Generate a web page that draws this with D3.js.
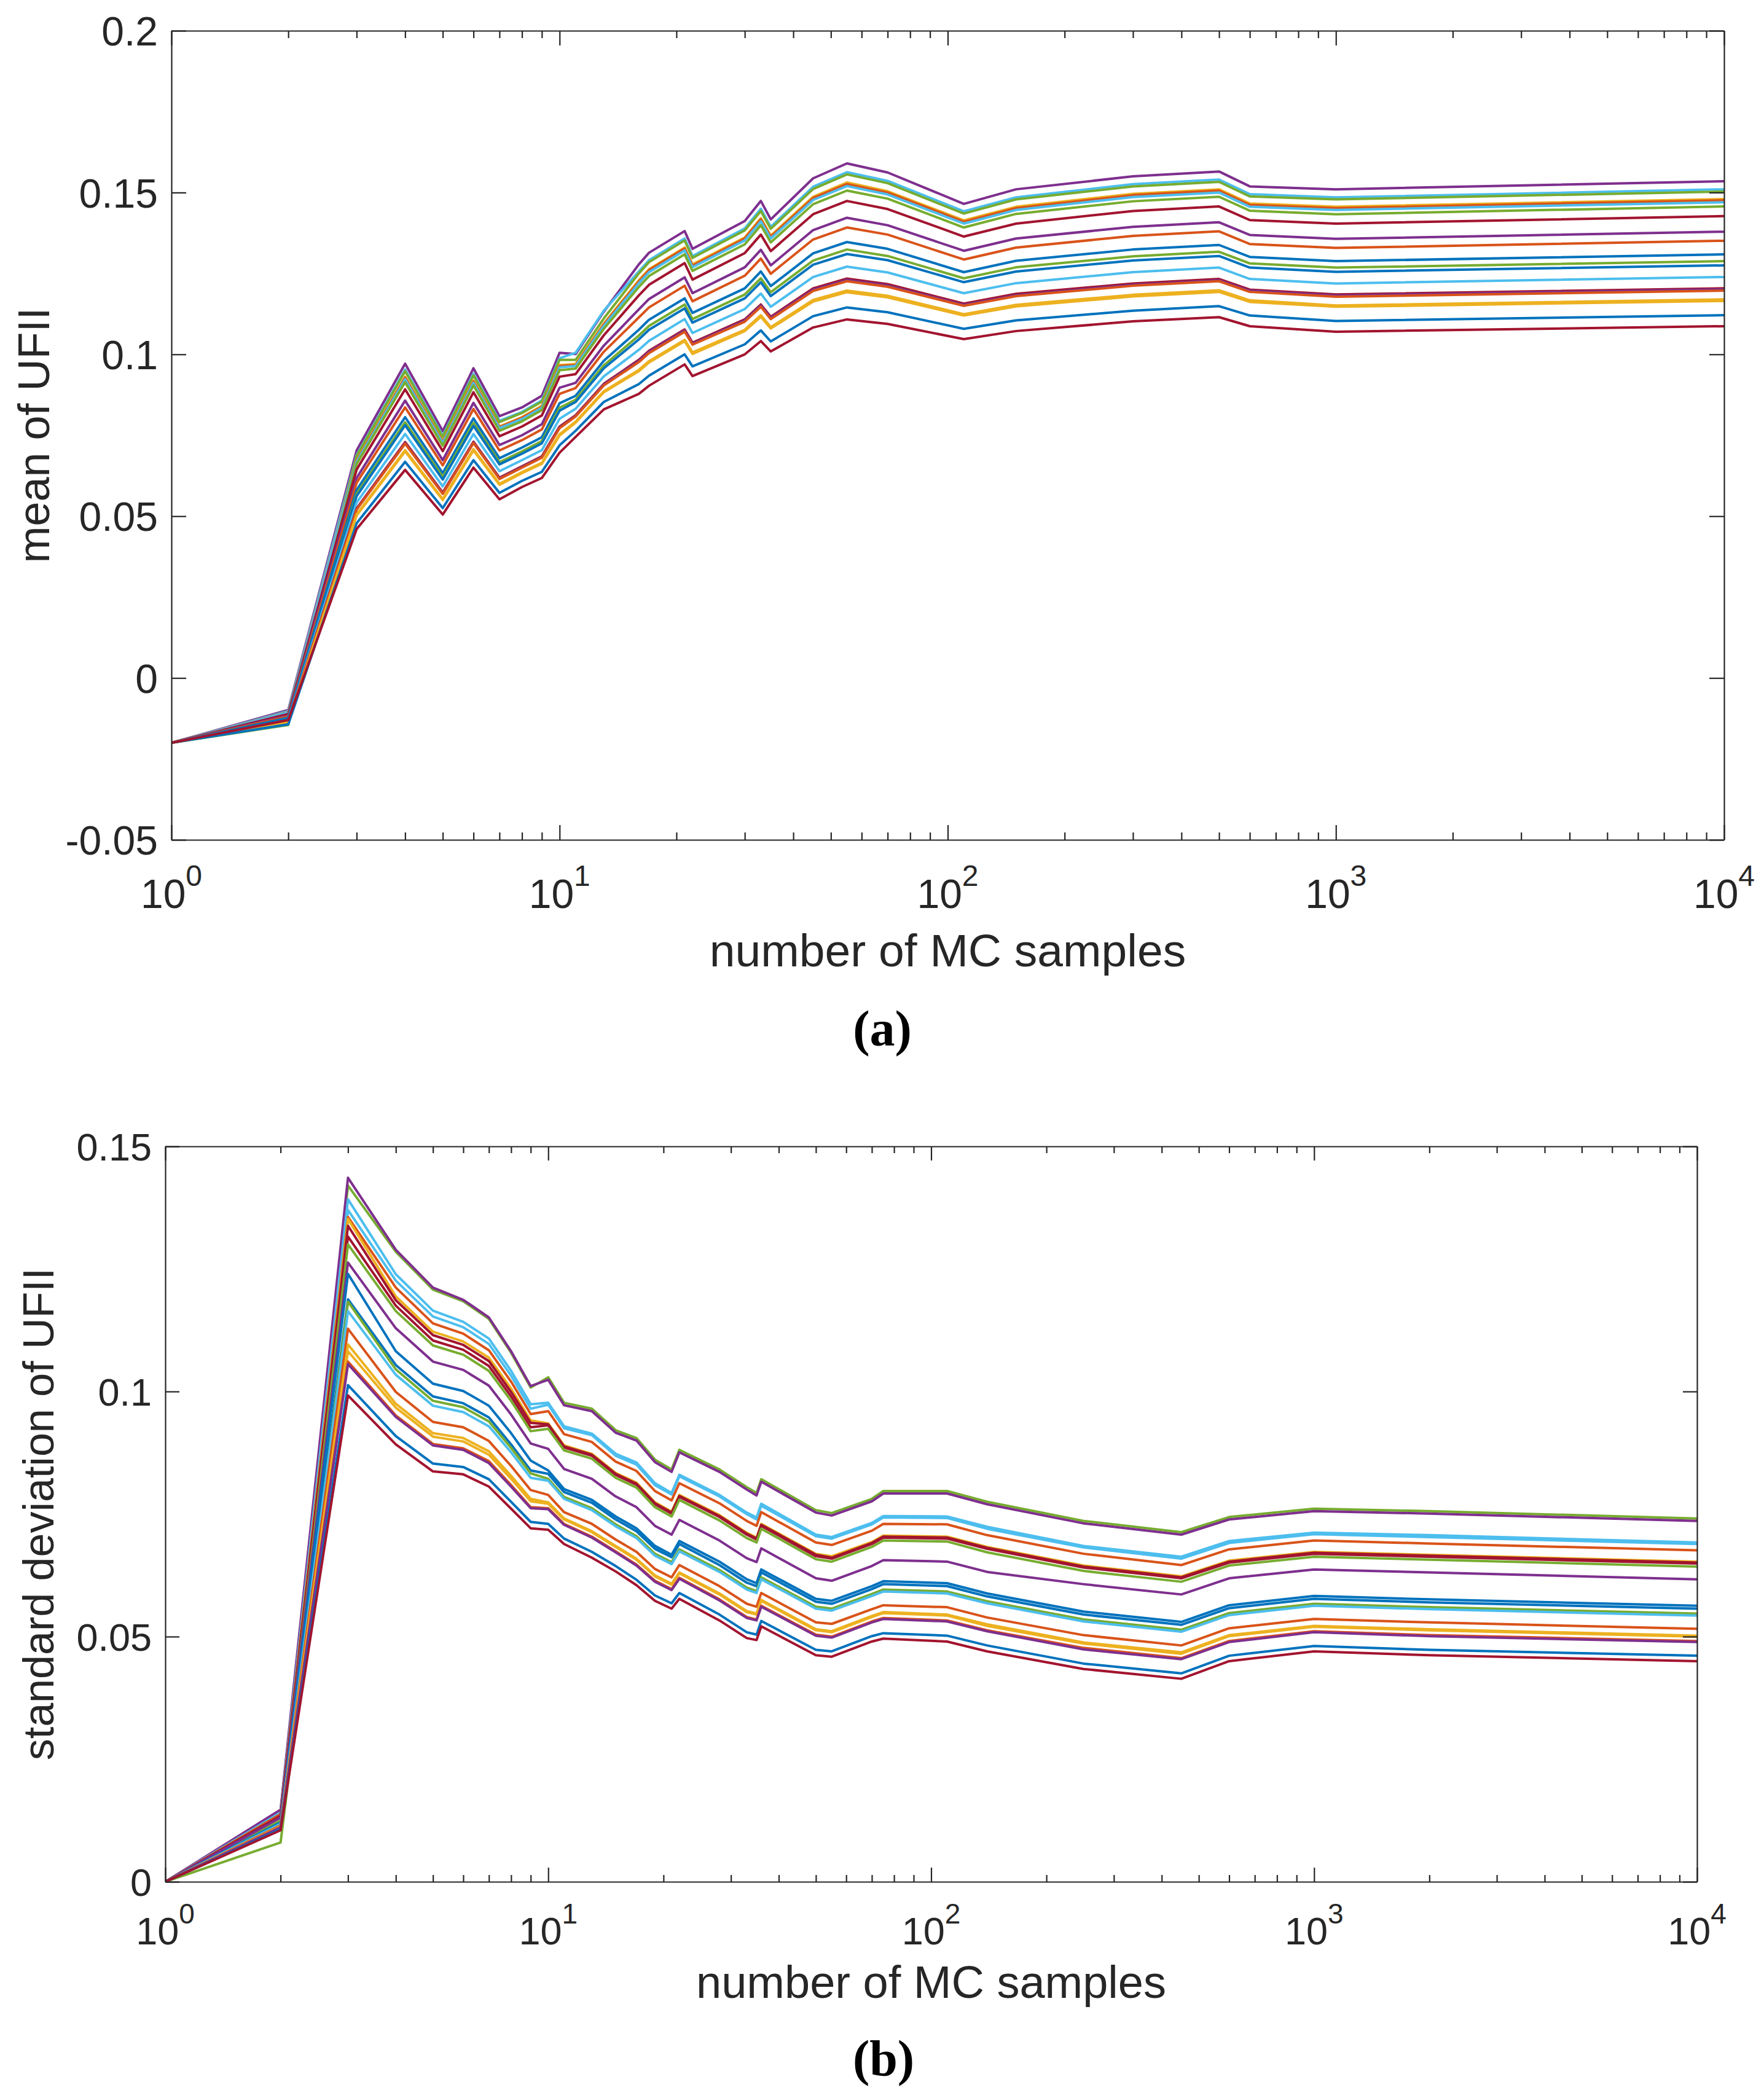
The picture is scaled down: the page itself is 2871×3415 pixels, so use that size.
<!DOCTYPE html>
<html>
<head>
<meta charset="utf-8">
<script src="https://cdn.jsdelivr.net/npm/d3@7"></script>
<style>
  body { margin: 0; background: #fff; }
  .axis path, .axis line { stroke: #262626; stroke-width: 2.2; }
  .axis text { fill: #262626; font-family: "Liberation Sans", Arial, sans-serif; }
  .series { fill: none; stroke-width: 4; stroke-linejoin: round; }
</style>
</head>
<body>
<div id="chart"></div>
<script>
// MATLAB default colour order
var blue = "#0072BD", orange = "#D95319", yellow = "#EDB120", purple = "#7E2F8E",
    green = "#77AC30", lblue = "#4DBEEE", dred = "#A2142F";

// ---- panel (a): mean of UFII ----
var meanX = [1,2,3,4,5,6,7,8,9,10,11,13,16,17,21,22,30,33,35,45,55,70,110,150,300,500,600,1000,10000];
var meanTicks = [-0.05, 0, 0.05, 0.1, 0.15, 0.2];
var meanTickLabels = ["-0.05", "0", "0.05", "0.1", "0.15", "0.2"];

var mean01 = [-0.02,-0.0099,0.0703,0.0971,0.0763,0.0957,0.0809,0.0836,0.0872,0.1005,0.1001,0.1132,0.1278,0.1314,0.1381,0.1326,0.1412,0.1474,0.1417,0.1544,0.159,0.1562,0.1465,0.151,0.155,0.1565,0.1519,0.151,0.1535];
var mean02 = [-0.02,-0.0102,0.0689,0.0953,0.0749,0.094,0.0795,0.0822,0.0858,0.0988,0.1005,0.1135,0.1256,0.1291,0.1358,0.1304,0.1389,0.145,0.1394,0.1518,0.1563,0.1536,0.1442,0.1485,0.1526,0.154,0.1495,0.1485,0.151];
var mean03 = [-0.02,-0.014,0.0686,0.0948,0.0745,0.0935,0.0791,0.0819,0.0854,0.0983,0.0983,0.1111,0.125,0.1285,0.1352,0.1298,0.1383,0.1443,0.1388,0.1511,0.1556,0.1529,0.1435,0.1479,0.1519,0.1533,0.1488,0.1479,0.1503];
var mean04 = [-0.02,-0.0105,0.0673,0.0931,0.0731,0.0919,0.0777,0.0806,0.0841,0.0967,0.097,0.1095,0.1229,0.1263,0.133,0.1278,0.1361,0.1421,0.1367,0.1487,0.1531,0.1504,0.1414,0.1456,0.1496,0.151,0.1466,0.1456,0.148];
var mean05 = [-0.02,-0.0105,0.0671,0.0928,0.0729,0.0916,0.0775,0.0804,0.0838,0.0964,0.0967,0.1092,0.1225,0.126,0.1327,0.1274,0.1358,0.1417,0.1363,0.1483,0.1526,0.15,0.141,0.1452,0.1492,0.1506,0.1462,0.1452,0.1476];
var mean06 = [-0.02,-0.0106,0.0668,0.0923,0.0726,0.0912,0.0772,0.08,0.0835,0.096,0.0964,0.1088,0.122,0.1254,0.1321,0.1269,0.1352,0.1411,0.1358,0.1477,0.152,0.1494,0.1404,0.1446,0.1486,0.15,0.1456,0.1446,0.147];
var mean07 = [-0.02,-0.0145,0.0661,0.0914,0.0718,0.0904,0.0764,0.0793,0.0828,0.0951,0.0956,0.1079,0.1208,0.1242,0.1309,0.1258,0.134,0.1399,0.1346,0.1464,0.1506,0.1481,0.1392,0.1434,0.1473,0.1487,0.1444,0.1433,0.1457];
var mean08 = [-0.02,-0.0111,0.0644,0.0892,0.0701,0.0883,0.0747,0.0777,0.0811,0.0931,0.0939,0.1059,0.1182,0.1215,0.1282,0.1231,0.1313,0.137,0.1319,0.1433,0.1474,0.1449,0.1364,0.1404,0.1443,0.1457,0.1415,0.1404,0.1427];
var mean09 = [-0.02,-0.0116,0.0618,0.0857,0.0673,0.085,0.072,0.075,0.0784,0.0897,0.0912,0.1027,0.1139,0.1171,0.1238,0.1189,0.1269,0.1323,0.1275,0.1384,0.1422,0.1399,0.132,0.1358,0.1394,0.1408,0.1369,0.1357,0.1379];
var mean10 = [-0.02,-0.0119,0.0603,0.0836,0.0657,0.0831,0.0703,0.0735,0.0768,0.0878,0.0896,0.1008,0.1114,0.1145,0.1212,0.1164,0.1243,0.1296,0.1249,0.1355,0.1392,0.137,0.1293,0.133,0.1366,0.138,0.1341,0.1329,0.1351];
var mean11 = [-0.02,-0.0123,0.0581,0.0806,0.0633,0.0802,0.0679,0.0712,0.0744,0.0849,0.0872,0.098,0.1076,0.1107,0.1173,0.1128,0.1204,0.1256,0.1211,0.1312,0.1347,0.1326,0.1254,0.1289,0.1324,0.1338,0.1301,0.1288,0.1309];
var mean12 = [-0.02,-0.014,0.0569,0.079,0.0621,0.0788,0.0667,0.07,0.0732,0.0835,0.086,0.0966,0.1058,0.1088,0.1154,0.1109,0.1185,0.1235,0.1192,0.129,0.1324,0.1304,0.1235,0.1269,0.1303,0.1317,0.1281,0.1268,0.1288];
var mean13 = [-0.02,-0.0127,0.0562,0.0781,0.0613,0.0779,0.066,0.0693,0.0725,0.0826,0.0853,0.0957,0.1046,0.1076,0.1142,0.1098,0.1173,0.1223,0.118,0.1277,0.131,0.1291,0.1223,0.1256,0.129,0.1304,0.1268,0.1255,0.1275];
var mean14 = [-0.02,-0.0131,0.0542,0.0754,0.0592,0.0754,0.0639,0.0673,0.0704,0.0801,0.0832,0.0932,0.1014,0.1042,0.1109,0.1066,0.114,0.1188,0.1147,0.1239,0.1271,0.1253,0.1189,0.122,0.1254,0.1268,0.1233,0.1219,0.1239];
var mean15 = [-0.02,-0.0134,0.0524,0.0729,0.0573,0.073,0.0619,0.0654,0.0685,0.0777,0.0812,0.0909,0.0983,0.1011,0.1077,0.1036,0.1108,0.1154,0.1116,0.1204,0.1234,0.1217,0.1157,0.1187,0.1219,0.1233,0.12,0.1185,0.1204];
var mean16 = [-0.02,-0.0134,0.0522,0.0726,0.0571,0.0728,0.0617,0.0652,0.0683,0.0774,0.081,0.0907,0.098,0.1008,0.1074,0.1033,0.1105,0.1151,0.1113,0.12,0.123,0.1213,0.1153,0.1183,0.1215,0.1229,0.1197,0.1182,0.1201];
var mean17 = [-0.02,-0.0135,0.052,0.0724,0.0569,0.0726,0.0615,0.065,0.0681,0.0772,0.0808,0.0904,0.0976,0.1004,0.107,0.103,0.1101,0.1147,0.1109,0.1196,0.1226,0.1209,0.115,0.118,0.1212,0.1226,0.1193,0.1178,0.1197];
var mean18 = [-0.02,-0.0138,0.0505,0.0704,0.0553,0.0707,0.06,0.0636,0.0665,0.0753,0.0792,0.0886,0.0952,0.0979,0.1045,0.1006,0.1076,0.1121,0.1084,0.1168,0.1197,0.1181,0.1124,0.1153,0.1184,0.1198,0.1167,0.1151,0.117];
var mean19 = [-0.02,-0.0138,0.0502,0.07,0.055,0.0703,0.0597,0.0633,0.0662,0.0749,0.0789,0.0883,0.0948,0.0975,0.1041,0.1001,0.1072,0.1116,0.108,0.1163,0.1192,0.1176,0.112,0.1148,0.1179,0.1193,0.1162,0.1147,0.1165];
var mean20 = [-0.02,-0.0143,0.0478,0.0668,0.0525,0.0673,0.0572,0.0609,0.0637,0.0719,0.0764,0.0853,0.0908,0.0934,0.1,0.0963,0.1031,0.1074,0.104,0.1118,0.1145,0.113,0.1079,0.1105,0.1135,0.1149,0.112,0.1103,0.1121];
var mean21 = [-0.02,-0.013,0.046,0.0643,0.0505,0.065,0.0552,0.059,0.0618,0.0696,0.0745,0.083,0.0878,0.0903,0.0969,0.0933,0.1,0.1041,0.1009,0.1083,0.1108,0.1094,0.1047,0.1072,0.1102,0.1115,0.1087,0.107,0.1087];

var meanColors = [purple, lblue, green, yellow, orange, lblue, green, dred, purple, orange,
                  blue, green, blue, lblue, dred, purple, orange, yellow, yellow, blue, dred];

// ---- panel (b): standard deviation of UFII ----
var sdX = [1,2,3,4,5,6,7,8,9,10,11,13,15,17,19,21,22,28,33,35,36,50,55,70,75,110,140,250,450,600,1000,2000,10000];
var sdTicks = [0, 0.05, 0.1, 0.15];
var sdTickLabels = ["0", "0.05", "0.1", "0.15"];

var sd01 = [0,0.014,0.142,0.1285,0.1208,0.1184,0.1148,0.1079,0.1008,0.1029,0.0977,0.0965,0.0921,0.0905,0.0861,0.0841,0.0881,0.0841,0.0805,0.0793,0.0821,0.0758,0.0752,0.0781,0.0797,0.0797,0.0775,0.0736,0.0713,0.0744,0.0761,0.0756,0.0741];
var sd02 = [0,0.0147,0.1436,0.1289,0.1212,0.1187,0.1151,0.1082,0.1011,0.1024,0.0972,0.096,0.0916,0.09,0.0856,0.0836,0.0876,0.0836,0.08,0.0788,0.0816,0.0753,0.0747,0.0776,0.0792,0.0792,0.077,0.0731,0.0708,0.0739,0.0756,0.0751,0.0736];
var sd03 = [0,0.014,0.1392,0.1239,0.1165,0.1142,0.1108,0.1042,0.0974,0.0977,0.0929,0.0914,0.0873,0.0855,0.0813,0.0793,0.083,0.0789,0.0753,0.0743,0.0771,0.0708,0.0703,0.0732,0.0746,0.0745,0.0724,0.0685,0.0663,0.0695,0.0712,0.0707,0.0692];
var sd04 = [0,0.0141,0.137,0.1226,0.1153,0.1131,0.1097,0.1032,0.0965,0.0973,0.0925,0.0911,0.0869,0.0851,0.0809,0.079,0.0827,0.0786,0.075,0.0739,0.0767,0.0705,0.07,0.0729,0.0743,0.0742,0.072,0.0682,0.0659,0.0691,0.0709,0.0703,0.0689];
var sd05 = [0,0.0138,0.1356,0.1212,0.1139,0.1118,0.1084,0.102,0.0954,0.096,0.0913,0.0897,0.0857,0.0838,0.0797,0.0778,0.0813,0.0772,0.0736,0.0726,0.0754,0.0692,0.0687,0.0716,0.073,0.0729,0.0707,0.0669,0.0646,0.0678,0.0696,0.069,0.0676];
var sd06 = [0,0.0134,0.1352,0.1194,0.1122,0.1102,0.1069,0.1006,0.0941,0.0935,0.089,0.0873,0.0834,0.0814,0.0774,0.0755,0.0789,0.0748,0.0712,0.0702,0.073,0.0669,0.0664,0.0693,0.0706,0.0704,0.0683,0.0645,0.0623,0.0655,0.0673,0.0667,0.0653];
var sd07 = [0,0.0134,0.1338,0.1186,0.1115,0.1095,0.1062,0.0999,0.0936,0.0933,0.0888,0.0871,0.0832,0.0812,0.0772,0.0753,0.0787,0.0746,0.071,0.07,0.0728,0.0667,0.0661,0.0691,0.0704,0.0702,0.0681,0.0643,0.0621,0.0653,0.0671,0.0665,0.0651];
var sd08 = [0,0.0134,0.1316,0.1175,0.1104,0.1085,0.1052,0.099,0.0927,0.0931,0.0886,0.0869,0.083,0.081,0.077,0.0751,0.0785,0.0744,0.0708,0.0698,0.0726,0.0664,0.0659,0.0689,0.0702,0.07,0.0679,0.0641,0.0619,0.0651,0.0669,0.0663,0.0649];
var sd09 = [0,0.0125,0.13,0.1164,0.1094,0.1075,0.1042,0.0981,0.0919,0.0924,0.088,0.0863,0.0824,0.0804,0.0764,0.0745,0.0779,0.0737,0.0701,0.0692,0.072,0.0658,0.0653,0.0683,0.0696,0.0694,0.0672,0.0634,0.0612,0.0645,0.0663,0.0657,0.0643];
var sd10 = [0,0.0131,0.1263,0.1129,0.1061,0.1044,0.1012,0.0953,0.0894,0.0883,0.0842,0.0822,0.0786,0.0764,0.0726,0.0708,0.0738,0.0696,0.066,0.0652,0.068,0.0619,0.0614,0.0644,0.0656,0.0653,0.0632,0.0607,0.0586,0.0619,0.0637,0.0631,0.0617];
var sd11 = [0,0.0121,0.124,0.1082,0.1016,0.1001,0.0971,0.0915,0.0859,0.0839,0.0801,0.0779,0.0745,0.0721,0.0685,0.0667,0.0695,0.0653,0.0617,0.0609,0.0637,0.0577,0.0573,0.0603,0.0613,0.0609,0.0588,0.0551,0.053,0.0564,0.0583,0.0576,0.0563];
var sd12 = [0,0.012,0.1188,0.1054,0.099,0.0976,0.0947,0.0892,0.0839,0.0832,0.0795,0.0773,0.0739,0.0715,0.0679,0.0662,0.0689,0.0646,0.061,0.0603,0.0631,0.0571,0.0567,0.0597,0.0607,0.0603,0.0582,0.0545,0.0524,0.0558,0.0577,0.057,0.0557];
var sd13 = [0,0.008,0.1183,0.1045,0.0981,0.0968,0.0939,0.0885,0.0833,0.0822,0.0785,0.0762,0.0729,0.0705,0.0669,0.0652,0.0678,0.0636,0.06,0.0593,0.0621,0.0561,0.0557,0.0587,0.0596,0.0592,0.0572,0.0535,0.0514,0.0548,0.0567,0.056,0.0547];
var sd14 = [0,0.0118,0.1164,0.1034,0.0971,0.0958,0.0929,0.0876,0.0824,0.0818,0.0781,0.0758,0.0725,0.0701,0.0665,0.0648,0.0674,0.0632,0.0596,0.0589,0.0617,0.0557,0.0553,0.0583,0.0592,0.0588,0.0568,0.0531,0.051,0.0544,0.0563,0.0556,0.0543];
var sd15 = [0,0.0115,0.1128,0.0999,0.0938,0.0927,0.0899,0.0848,0.0799,0.0789,0.0754,0.073,0.0698,0.0673,0.0638,0.0621,0.0646,0.0603,0.0567,0.0561,0.0589,0.0529,0.0526,0.0556,0.0564,0.056,0.0539,0.0503,0.0482,0.0517,0.0536,0.0529,0.0516];
var sd16 = [0,0.0113,0.1096,0.0975,0.0915,0.0905,0.0878,0.0828,0.0781,0.0774,0.0741,0.0715,0.0685,0.0659,0.0625,0.0608,0.0631,0.0588,0.0552,0.0547,0.0575,0.0515,0.0511,0.0542,0.055,0.0545,0.0525,0.0488,0.0468,0.0503,0.0522,0.0515,0.0502];
var sd17 = [0,0.0112,0.1082,0.0967,0.0908,0.0898,0.0871,0.0822,0.0776,0.0771,0.0739,0.0713,0.0683,0.0657,0.0623,0.0606,0.0629,0.0586,0.055,0.0545,0.0573,0.0513,0.0509,0.054,0.0548,0.0543,0.0522,0.0486,0.0465,0.0501,0.052,0.0513,0.05];
var sd18 = [0,0.0111,0.1061,0.0951,0.0893,0.0884,0.0858,0.0809,0.0764,0.0762,0.073,0.0704,0.0674,0.0647,0.0614,0.0597,0.062,0.0576,0.054,0.0535,0.0563,0.0504,0.05,0.0531,0.0538,0.0533,0.0513,0.0477,0.0456,0.0491,0.0511,0.0503,0.0491];
var sd19 = [0,0.0111,0.1056,0.0948,0.089,0.0881,0.0854,0.0806,0.0762,0.076,0.0728,0.0702,0.0672,0.0645,0.0612,0.0595,0.0618,0.0574,0.0538,0.0533,0.0561,0.0502,0.0498,0.0529,0.0536,0.0531,0.0511,0.0474,0.0454,0.0489,0.0509,0.0501,0.0489];
var sd20 = [0,0.0107,0.1013,0.0909,0.0853,0.0846,0.0821,0.0775,0.0734,0.073,0.07,0.0673,0.0644,0.0616,0.0584,0.0568,0.0589,0.0545,0.0509,0.0504,0.0532,0.0473,0.047,0.0501,0.0507,0.0502,0.0482,0.0445,0.0425,0.0461,0.0481,0.0473,0.0461];
var sd21 = [0,0.0105,0.0992,0.0892,0.0837,0.0831,0.0806,0.0761,0.0721,0.0718,0.0689,0.0661,0.0633,0.0605,0.0573,0.0557,0.0577,0.0533,0.0497,0.0493,0.0521,0.0462,0.0459,0.049,0.0496,0.049,0.047,0.0434,0.0414,0.045,0.047,0.0462,0.045];

var sdColors = [green, purple, lblue, lblue, orange, yellow, dred, dred, green, purple,
                blue, blue, green, lblue, orange, yellow, yellow, orange, purple, blue, dred];

var xDecades = [1, 10, 100, 1000, 10000];

var svg = d3.select("#chart").append("svg")
    .attr("width", 2871)
    .attr("height", 3415);

svg.append("rect").attr("width", 2871).attr("height", 3415).attr("fill", "#fff");

function panel(cfg) {
    var width = cfg.right - cfg.left,
        height = cfg.bottom - cfg.top;

    var x = d3.scaleLog().domain([1, 10000]).range([0, width]);
    var y = d3.scaleLinear().domain(cfg.yDomain).range([height, 0]);

    var minors = [];
    xDecades.slice(0, 4).forEach(function(d) {
        for (var k = 2; k <= 9; k++) { minors.push(d * k); }
    });

    var g = svg.append("g")
        .attr("transform", "translate(" + cfg.left + "," + cfg.top + ")");

    g.append("clipPath").attr("id", cfg.id + "-clip")
      .append("rect").attr("width", width).attr("height", height);

    // data lines
    var line = d3.line()
        .x(function(d) { return x(d[0]); })
        .y(function(d) { return y(d[1]); });

    var lines = g.append("g").attr("clip-path", "url(#" + cfg.id + "-clip)");
    cfg.series.forEach(function(vals, i) {
        lines.append("path")
            .datum(cfg.xs.map(function(n, j) { return [n, vals[j]]; }))
            .attr("class", "series")
            .attr("d", line)
            .style("stroke", cfg.colors[i]);
    });

    // minor x ticks (bottom and top)
    g.append("g").attr("class", "axis")
        .attr("transform", "translate(0," + height + ")")
        .call(d3.axisBottom(x).tickValues(minors).tickSizeInner(-cfg.minorLen).tickSizeOuter(0).tickFormat(""))
        .select(".domain").remove();
    g.append("g").attr("class", "axis")
        .call(d3.axisTop(x).tickValues(minors).tickSizeInner(-cfg.minorLen).tickSizeOuter(0).tickFormat(""))
        .select(".domain").remove();

    // major x ticks
    g.append("g").attr("class", "axis")
        .attr("transform", "translate(0," + height + ")")
        .call(d3.axisBottom(x).tickValues(xDecades).tickSizeInner(-cfg.tickLen).tickSizeOuter(0).tickFormat(""));
    g.append("g").attr("class", "axis")
        .call(d3.axisTop(x).tickValues(xDecades).tickSizeInner(-cfg.tickLen).tickSizeOuter(0).tickFormat(""));

    // y axes
    var yLeft = g.append("g").attr("class", "axis")
        .call(d3.axisLeft(y).tickValues(cfg.yTicks).tickSizeInner(-cfg.tickLen).tickSizeOuter(0)
            .tickPadding(cfg.tickPad)
            .tickFormat(function(d, i) { return cfg.yTickLabels[i]; }));
    yLeft.selectAll("text").style("font-size", cfg.tickFont + "px").attr("dy", "0.36em");

    g.append("g").attr("class", "axis")
        .attr("transform", "translate(" + width + ",0)")
        .call(d3.axisRight(y).tickValues(cfg.yTicks).tickSizeInner(-cfg.tickLen).tickSizeOuter(0).tickFormat(""));

    // x tick labels 10^n
    var xl = g.append("g").attr("class", "axis");
    xDecades.forEach(function(d, i) {
        var t = xl.append("text")
            .attr("x", x(d))
            .attr("y", height + cfg.xTickBase)
            .attr("text-anchor", "middle")
            .style("font-size", cfg.tickFont + "px");
        t.append("tspan").text("10");
        t.append("tspan")
            .attr("dy", -cfg.supRaise)
            .style("font-size", cfg.supFont + "px")
            .text(i);
    });

    // axis titles
    g.append("text")
        .attr("x", width / 2)
        .attr("y", height + cfg.xLabelBase)
        .attr("text-anchor", "middle")
        .style("font-family", "'Liberation Sans', Arial, sans-serif")
        .style("font-size", cfg.xLabelFont + "px")
        .style("fill", "#262626")
        .text(cfg.xLabel);

    g.append("text")
        .attr("transform", "translate(" + (cfg.yLabelBase - cfg.left) + "," + (height / 2) + ") rotate(-90)")
        .attr("text-anchor", "middle")
        .style("font-family", "'Liberation Sans', Arial, sans-serif")
        .style("font-size", cfg.labelFont + "px")
        .style("fill", "#262626")
        .text(cfg.yLabel);

    // sub-figure caption
    svg.append("text")
        .attr("x", cfg.capX)
        .attr("y", cfg.capY)
        .attr("text-anchor", "middle")
        .style("font-family", "'Liberation Serif', 'Times New Roman', serif")
        .style("font-weight", "bold")
        .style("font-size", "82px")
        .style("fill", "#000")
        .text(cfg.caption);
}

panel({
    id: "mean",
    left: 279, right: 2806, top: 50, bottom: 1367,
    yDomain: [-0.05, 0.2], yTicks: meanTicks, yTickLabels: meanTickLabels,
    xs: meanX,
    series: [mean01, mean02, mean03, mean04, mean05, mean06, mean07, mean08, mean09, mean10,
             mean11, mean12, mean13, mean14, mean15, mean16, mean17, mean18, mean19, mean20, mean21],
    colors: meanColors,
    tickLen: 24, minorLen: 12, tickPad: 22,
    tickFont: 66, supFont: 48, supRaise: 36, xTickBase: 111,
    labelFont: 72, xLabelFont: 75, xLabelBase: 206, yLabelBase: 80,
    xLabel: "number of MC samples", yLabel: "mean of UFII",
    caption: "(a)", capX: 1436, capY: 1702
});

panel({
    id: "sd",
    left: 269, right: 2762, top: 1866, bottom: 3063,
    yDomain: [0, 0.15], yTicks: sdTicks, yTickLabels: sdTickLabels,
    xs: sdX,
    series: [sd01, sd02, sd03, sd04, sd05, sd06, sd07, sd08, sd09, sd10,
             sd11, sd12, sd13, sd14, sd15, sd16, sd17, sd18, sd19, sd20, sd21],
    colors: sdColors,
    tickLen: 23, minorLen: 11, tickPad: 22,
    tickFont: 63, supFont: 46, supRaise: 34, xTickBase: 102,
    labelFont: 70, xLabelFont: 74, xLabelBase: 189, yLabelBase: 87,
    xLabel: "number of MC samples", yLabel: "standard deviation of UFII",
    caption: "(b)", capX: 1438, capY: 3378
});
</script>
</body>
</html>
